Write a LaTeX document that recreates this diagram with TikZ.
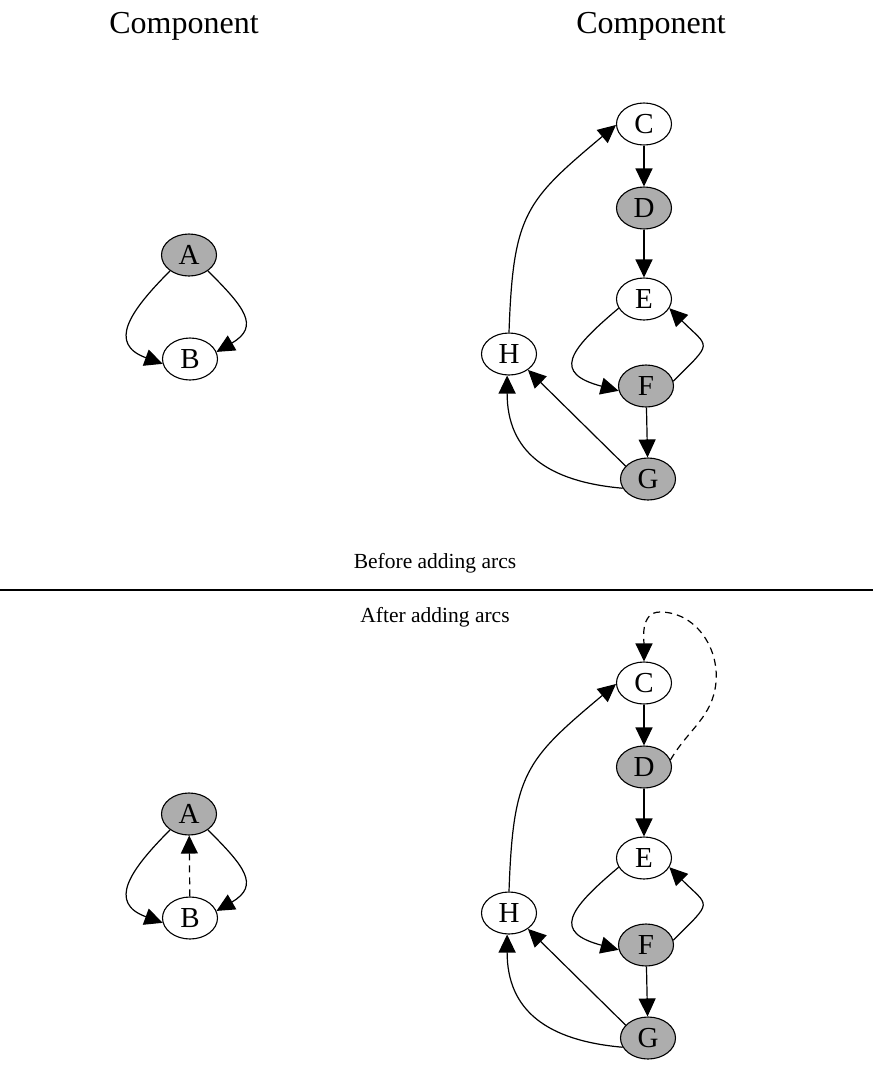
\documentclass[tikz,border=0pt]{standalone}
\usepackage{fontspec}
\setmainfont{Liberation Serif}
\usetikzlibrary{
  shapes.geometric,
  arrows.meta}

\begin{document}
\begin{tikzpicture}[x=1pt,y=1pt,
  vertex/.style={draw,ellipse,line width=1.1pt,minimum width=55pt,minimum height=42pt,
    inner sep=0pt,font=\fontsize{29}{29}\selectfont},
  grayvertex/.style={vertex,fill=black!32},
  arc/.style={line width=1.2pt,-{Triangle[length=18pt,width=17pt]}},
  newarc/.style={arc,dash pattern=on 7pt off 5pt},
  caption/.style={anchor=base,font=\fontsize{21.5}{21.5}\selectfont}]
\useasboundingbox (0,0) rectangle (873,-1069);
\node[anchor=base,font=\fontsize{32}{32}\selectfont] (compleft) at (184,-33) {Component};
\node[anchor=base,font=\fontsize{32}{32}\selectfont] (compright) at (651,-33) {Component};
\node[caption] (before) at (435,-568) {Before adding arcs};
\node[caption] (after) at (435,-622) {After adding arcs};
\draw[line width=1.2pt] (0,-590) -- (873,-590);
\foreach \dy/\s in {0/t,559/b} {
  \node[grayvertex] (A\s) at (189,-255-\dy) {A};
  \node[vertex] (B\s) at (190,-359-\dy) {B};
  \node[vertex] (C\s) at (644,-124-\dy) {C};
  \node[grayvertex] (D\s) at (644,-208-\dy) {D};
  \node[vertex] (E\s) at (644,-299-\dy) {E};
  \node[grayvertex] (F\s) at (646,-386-\dy) {F};
  \node[grayvertex] (G\s) at (648,-479-\dy) {G};
  \node[vertex] (H\s) at (509,-354-\dy) {H};
  \draw[arc] (A\s.220) to[out=-135,in=160,looseness=1.6] (B\s.190);
  \draw[arc] (A\s.-40) to[out=-45,in=30,looseness=1.6] (B\s.15);
  \draw[arc] (C\s) -- (D\s);
  \draw[arc] (D\s) -- (E\s);
  \draw[arc] (E\s.200) to[out=-140,in=165,looseness=2.1] (F\s.190);
  \draw[arc] (F\s.10) to[out=45,in=-45,looseness=2] (E\s.-20);
  \draw[arc] (F\s) -- (G\s);
  \draw[arc] (G\s.150) -- (H\s.-40);
  \draw[arc] (G\s.200) to[out=175,in=-90,looseness=1.2] (H\s.-95);
  \draw[arc] (H\s.north) to[out=88,in=-140,looseness=1.3] (C\s.182);
}
\coordinate (dcside) at (716,-682);
\coordinate (dctop) at (660,-612);
\draw[newarc] (Bb) -- (Ab);
\draw[newarc] (Db.15) to[out=60,in=-95] (dcside) to[out=85,in=0] (dctop)
  to[out=180,in=90] (Cb.north);
\end{tikzpicture}
\end{document}
